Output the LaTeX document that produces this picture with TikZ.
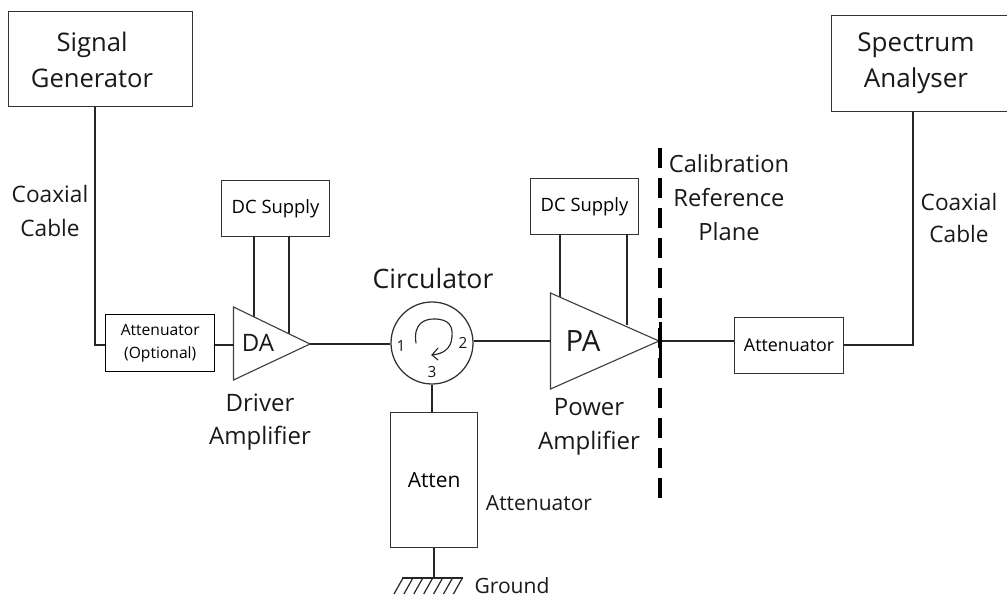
\documentclass[tikz,border=0pt]{standalone}
\usepackage{fontspec}
\setmainfont{Open Sans}
\usetikzlibrary{calc}
\tikzset{
  x=0.75pt,y=-0.75pt,
  wire/.style={draw=black!85,line width=1.15pt,line join=miter},
  thin wire/.style={draw=black!85,line width=1.15pt},
  boxnode/.style={draw=black!80,line width=0.85pt,fill=white,inner sep=0pt,align=center,anchor=north west},
  amp/.style={draw=black!75,line width=0.85pt,fill=white},
  textlabel/.style={align=center,text=black!90,inner sep=0pt},
  tinylabel/.style={font=\fontsize{11.5}{15}\selectfont,align=center,text=black!90,inner sep=0pt},
}
\begin{document}
\begin{tikzpicture}
\useasboundingbox (0,0) rectangle (1007,598);
\clip (0,0) rectangle (1007,598);
% Boxes
\node[boxnode,minimum width=138pt,minimum height=71.25pt] (sg) at (8,11) {};
\node[textlabel,font=\fontsize{19.2}{27}\selectfont] (sgt) at (92,60) {Signal\\Generator};
\node[boxnode,minimum width=134.25pt,minimum height=72pt] (sa) at (831,15) {};
\node[textlabel,font=\fontsize{19.5}{27}\selectfont] (sat) at (916,63) {Spectrum\\Analyser};
\node[boxnode,minimum width=81pt,minimum height=42pt,font=\fontsize{13.8}{15}\selectfont] (dc1) at (221,180) {DC Supply};
\node[boxnode,minimum width=81pt,minimum height=42pt,font=\fontsize{13.8}{15}\selectfont] (dc2) at (530,178) {DC Supply};
\node[boxnode,draw=black,line width=1.1pt,minimum width=81.75pt,minimum height=42.75pt,font=\fontsize{11.7}{17}\selectfont] (ao) at (105,314) {Attenuator\\(Optional)};
\node[boxnode,minimum width=81.75pt,minimum height=42pt,font=\fontsize{13.4}{15}\selectfont] (ar) at (734,317) {Attenuator};
\node[boxnode,minimum width=65.25pt,minimum height=101.25pt,font=\fontsize{15.7}{18}\selectfont] (at) at (390,412) {Atten};
% Amp points
\coordinate (datl) at (233.5,307); \coordinate (dabl) at (233.5,380); \coordinate (datip) at (310,344);
\coordinate (patl) at (550.5,293); \coordinate (pabl) at (550.5,389); \coordinate (patip) at (659,341);
% Wires behind amps
\draw[thin wire] (254,236) -- (254,320);
\draw[thin wire] (289,236) -- (289,335);
\draw[thin wire] (560,234) -- (560,305);
\draw[thin wire] (627,234) -- (627,325);
\draw[amp] (datl) -- (dabl) -- (datip) -- cycle;
\draw[amp] (patl) -- (pabl) -- (patip) -- cycle;
\node[font=\fontsize{18}{20}\selectfont,text=black!90,inner sep=0pt] (da) at (258,343) {DA};
\node[font=\fontsize{22}{24}\selectfont,text=black!90,inner sep=0pt] (pa) at (583,341) {PA};
% Circulator
\node[circle,draw=black!80,line width=0.95pt,minimum size=61.5pt,inner sep=0pt] (circ) at (432,343) {};
\draw[black!85,line width=0.85pt,line cap=round,line join=round] (416,343) .. controls (413,323) and (425,319) .. (434,319) .. controls (449,319) and (453,326) .. (452,337) .. controls (451,349) and (443,354) .. (432,355);
\draw[black!85,line width=0.85pt,line cap=round,line join=round] (438,348) -- (432,355) -- (438,360);
\node[tinylabel] (p1) at (401,346) {1};
\node[tinylabel] (p2) at (463,343) {2};
\node[tinylabel] (p3) at (432,372) {3};
% Connectors
\draw[wire] (sg.south -| 95,0) -- (95,345) -- (ao.west |- 0,345);
\draw[wire] (ao.east |- 0,345) -- (233.5,345);
\draw[thin wire] (datip) -- (circ.west |- datip);
\draw[thin wire] (circ.east |- 0,341) -- (550.5,341);
\draw[wire] (circ.south) -- (circ.south |- at.north);
\draw[thin wire] (patip) -- (ar.west |- patip);
\draw[wire] (ar.east |- 0,345) -- (913,345) -- (sa.south -| 913,0);
% Dashed plane
\coordinate (pt) at (660,148); \coordinate (pb) at (660,505);
\draw[black,line width=2.3pt,dash pattern=on 15pt off 7.5pt] (pt) -- (pb);
\fill[black] (658.5,322) rectangle (661.5,358);
% Ground
\coordinate (gt) at (at.south |- 0,578);
\draw[wire] (at.south) -- (gt);
\coordinate (gl) at (402,578); \coordinate (gr) at (463,578);
\draw[black!85,line width=0.9pt] (gl) -- (gr);
\foreach \i in {0,...,6}{\draw[black!85,line width=0.9pt] ({403+\i*9.9},578) -- ({394+\i*9.9},594);}
% Labels
\node[textlabel,font=\fontsize{17}{25.5}\selectfont] (c1) at (50,211) {Coaxial\\Cable};
\node[textlabel,font=\fontsize{17}{24}\selectfont] (c2) at (959,218) {Coaxial\\Cable};
\node[textlabel,font=\fontsize{18}{25}\selectfont] (dal) at (260,422) {Driver\\Amplifier};
\node[textlabel,font=\fontsize{20}{24}\selectfont] (cl) at (433,279) {Circulator};
\node[textlabel,font=\fontsize{18}{25.5}\selectfont] (pal) at (589,427) {Power\\Amplifier};
\node[textlabel,font=\fontsize{17.8}{25.5}\selectfont] (cal) at (729,198) {Calibration\\Reference\\Plane};
\node[textlabel,font=\fontsize{15.75}{18}\selectfont] (atl) at (539,503) {Attenuator};
\node[textlabel,font=\fontsize{15.8}{18}\selectfont] (gd) at (512,586) {Ground};
\end{tikzpicture}
\end{document}
